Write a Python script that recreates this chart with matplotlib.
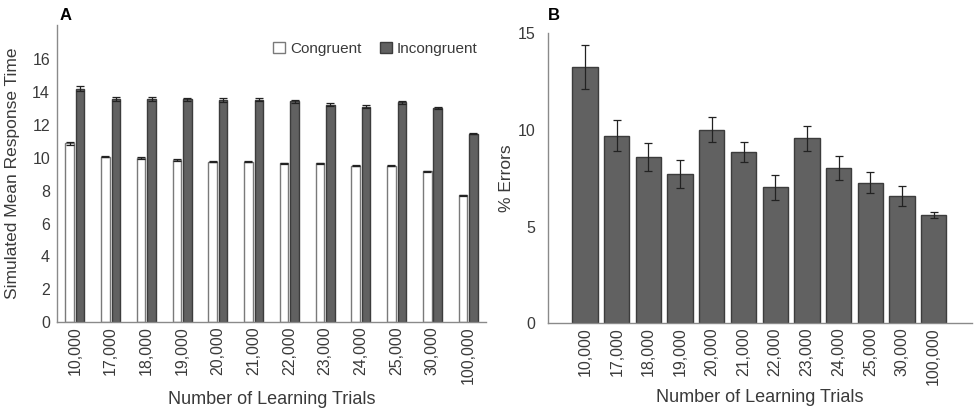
import matplotlib
matplotlib.use("Agg")
import matplotlib.pyplot as plt
import numpy as np
from matplotlib.patches import Patch

plt.rcParams['font.family'] = ['Liberation Sans', 'DejaVu Sans']

trials = ["10,000", "17,000", "18,000", "19,000", "20,000", "21,000",
          "22,000", "23,000", "24,000", "25,000", "30,000", "100,000"]

# Panel A: simulated mean response time
rt_congruent = [10.88, 10.08, 10.0, 9.88, 9.78, 9.78, 9.67, 9.67, 9.53, 9.53, 9.2, 7.73]
rt_congruent_err = [0.08, 0.05, 0.04, 0.04, 0.04, 0.04, 0.04, 0.04, 0.04, 0.04, 0.03, 0.03]
rt_incongruent = [14.22, 13.58, 13.6, 13.58, 13.5, 13.55, 13.45, 13.25, 13.13, 13.38, 13.05, 11.48]
rt_incongruent_err = [0.17, 0.12, 0.12, 0.1, 0.12, 0.1, 0.08, 0.09, 0.08, 0.08, 0.07, 0.04]

# Panel B: percentage of errors
pct_errors = [13.25, 9.7, 8.6, 7.72, 10.02, 8.85, 7.03, 9.57, 8.02, 7.28, 6.57, 5.6]
pct_errors_err = [1.15, 0.8, 0.7, 0.72, 0.65, 0.53, 0.65, 0.65, 0.62, 0.55, 0.52, 0.15]

text_color = "#3a3a3a"
spine_color = "#8a8a8a"
dark_fill = "#616161"
dark_edge = "#3c3c3c"
err_kw = dict(ecolor="#222222", elinewidth=0.9, capsize=2.8, capthick=0.9)

fig = plt.figure(figsize=(9.74, 4.08), dpi=100)
axA = fig.add_axes([0.0585, 0.2108, 0.4405, 0.728])
axB = fig.add_axes([0.5623, 0.2076, 0.4353, 0.7108])

x = np.arange(len(trials))
w = 0.24
off = 0.145
axA.bar(x - off, rt_congruent, w, color="white", edgecolor="#7a7a7a", linewidth=1.0,
        yerr=rt_congruent_err, error_kw=err_kw)
axA.bar(x + off, rt_incongruent, w, color=dark_fill, edgecolor=dark_edge, linewidth=1.0,
        yerr=rt_incongruent_err, error_kw=err_kw)
axA.set_xlim(-0.5, len(trials) - 0.5)
axA.set_ylim(0, 18.1)
axA.set_yticks(np.arange(0, 17, 2))
axA.set_xticks(x)
axA.set_xticklabels(trials, rotation=90)
axA.set_ylabel("Simulated Mean Response Time", fontsize=12.5, color=text_color)
axA.yaxis.set_label_coords(-0.086, 0.5)
axA.set_xlabel("Number of Learning Trials", fontsize=13, color=text_color, labelpad=5)
handles = [Patch(facecolor="white", edgecolor="#7a7a7a", label="Congruent"),
           Patch(facecolor=dark_fill, edgecolor=dark_edge, label="Incongruent")]
axA.legend(handles=handles, loc="center right", ncol=2, frameon=False, fontsize=11,
           handlelength=0.8, handleheight=0.8, handletextpad=0.3, columnspacing=1.2,
           bbox_to_anchor=(0.994, 0.92), borderaxespad=0.2, borderpad=0.2,
           labelcolor=text_color)
fig.text(0.0615, 0.962, "A", fontsize=12, fontweight="bold", color="black", ha="left", va="center")

axB.bar(x, pct_errors, 0.8, color=dark_fill, edgecolor=dark_edge, linewidth=1.0,
        yerr=pct_errors_err, error_kw=err_kw)
axB.set_xlim(-1.18, len(trials) - 1 + 1.2)
axB.set_ylim(0, 15)
axB.set_yticks([0, 5, 10, 15])
axB.set_xticks(x)
axB.set_xticklabels(trials, rotation=90)
axB.set_ylabel("% Errors", fontsize=12.5, color=text_color)
axB.yaxis.set_label_coords(-0.08, 0.5)
axB.set_xlabel("Number of Learning Trials", fontsize=13, color=text_color, labelpad=3)
fig.text(0.5625, 0.962, "B", fontsize=12, fontweight="bold", color="black", ha="left", va="center")

for ax in (axA, axB):
    for side in ("top", "right"):
        ax.spines[side].set_visible(False)
    for side in ("left", "bottom"):
        ax.spines[side].set_color(spine_color)
        ax.spines[side].set_linewidth(1.0)
    ax.tick_params(axis="x", length=0, labelsize=11.5, colors=text_color, pad=3)
axA.tick_params(axis="y", length=0, labelsize=11.5, colors=text_color, pad=5)
axB.tick_params(axis="y", length=0, labelsize=11.5, colors=text_color, pad=9)

fig.savefig("out.png", dpi=100)
